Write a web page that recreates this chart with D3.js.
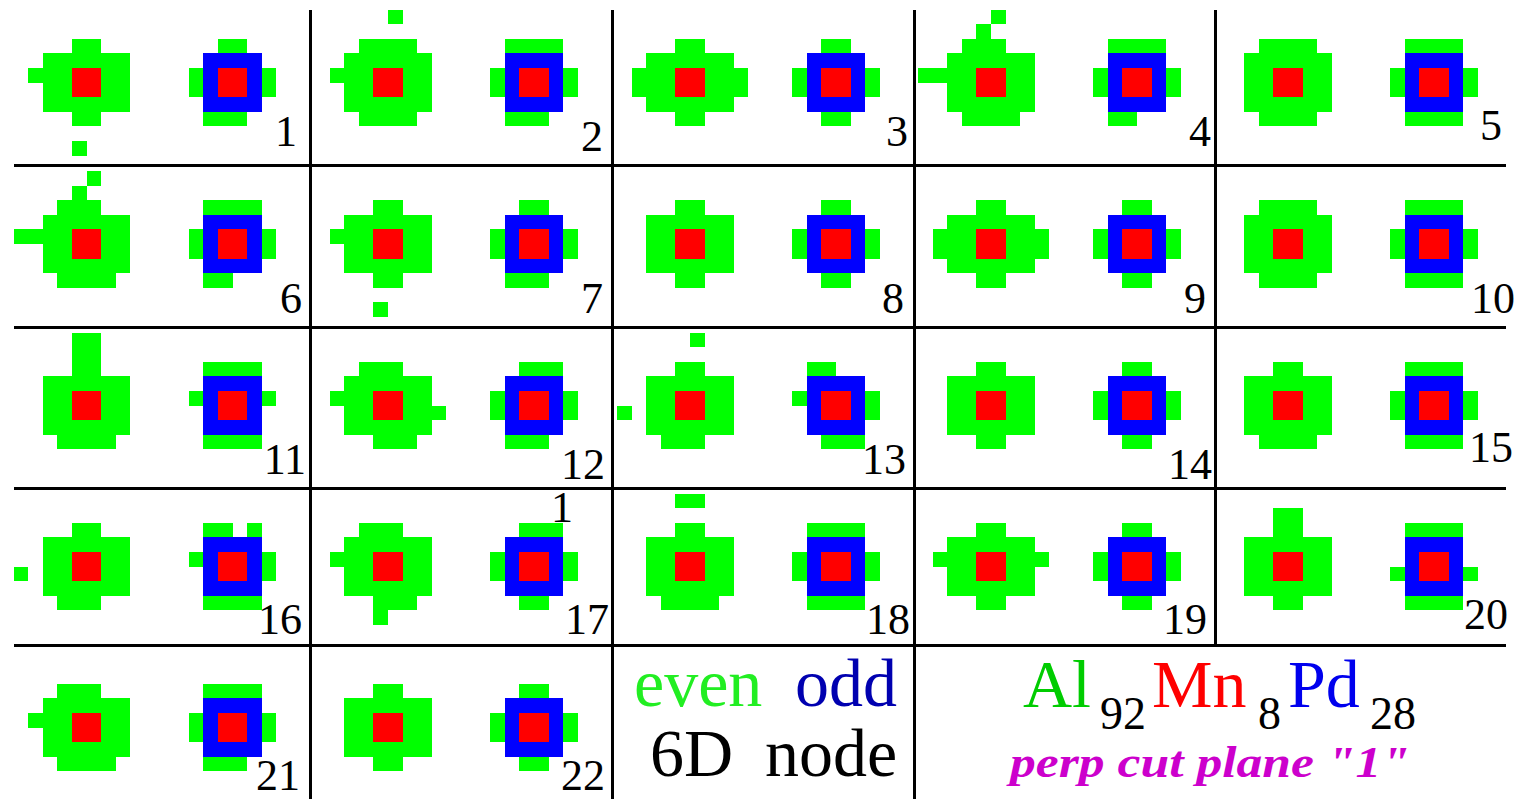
<!DOCTYPE html>
<html>
<head>
<meta charset="utf-8">
<script src="https://cdn.jsdelivr.net/npm/d3@7"></script>
<style>
body { margin: 0; background: #fff; }
svg { display: block; }
text { font-family: "Liberation Serif", "Times New Roman", serif; }
</style>
</head>
<body>
<svg id="plot" width="1520" height="799"></svg>
<script>
// panel numbers, read left-to-right, top-to-bottom
const PANEL_LABELS = ['1','2','3','4','5','6','7','8','9','10','11','12','13','14','15','16','17','18','19','20','21','22'];

// even nodes: rows j=-5..4, cols i=-5..3 (red block sits on i=-1,0 / j=-1,0)
const E_A = [".........",".........","....gg...","..gggggg.",".gggrrgg.","..ggrrgg.","..gggggg.","....gg...",".........","....g...."];
const E_B = [".....g...",".........","...gggg..","..gggggg.",".gggrrgg.","..ggrrgg.","..gggggg.","...gggg..",".........","........."];
const E_C = [".........",".........","....gg...","..gggggg.",".gggrrggg",".gggrrggg","..gggggg.","....gg...",".........","........."];
const E_D = [".....g...","....g....","...ggg...","..gggggg.","ggggrrgg.","..ggrrgg.","..gggggg.","...gggg..",".........","........."];
const E_E = [".........",".........","...gggg..","..gggggg.","..ggrrgg.","..ggrrgg.","..gggggg.","...gggg..",".........","........."];
const E_F = [".........",".........","....gg...","..gggggg.","..ggrrgg.","..ggrrgg.","..gggggg.","....gg...",".........","........."];
const E_11 = ["....gg...","....gg...","....gg...","..gggggg.","..ggrrgg.","..ggrrgg.","..gggggg.","...gggg..",".........","........."];
const E_12 = [".........",".........","...ggg...","..gggggg.",".gggrrgg.","..ggrrggg","..gggggg.","....ggg..",".........","........."];
const E_13 = [".....g...",".........","....gg...","..gggggg.","..ggrrgg.","g.ggrrgg.","..gggggg.","...ggg...",".........","........."];
const E_15 = [".........",".........","....gg...","..gggggg.","..ggrrgg.","..ggrrgg.","..gggggg.","...gggg..",".........","........."];
const E_16 = [".........",".........","....gg...","..gggggg.","..ggrrgg.","g.ggrrgg.","..gggggg.","...ggg...",".........","........."];
const E_17 = [".........",".........","...ggg...","..gggggg.",".gggrrgg.","..ggrrgg.","..gggggg.","....ggg..","....g....","........."];
const E_18 = ["....gg...",".........","....gg...","..gggggg.","..ggrrgg.","..ggrrgg.","..gggggg.","...gggg..",".........","........."];
const E_19 = [".........",".........","....gg...","..gggggg.",".gggrrggg","..ggrrgg.","..gggggg.","....gg...",".........","........."];
const E_20 = [".........","....gg...","....gg...","..gggggg.","..ggrrgg.","..ggrrgg.","..gggggg.","....gg...",".........","........."];
const E_21 = [".........",".........","...ggg...","..gggggg.",".gggrrgg.","..ggrrgg.","..gggggg.","...gggg..",".........","........."];
const EVEN_CELLS = [E_A, E_B, E_C, E_D, E_E, E_D, E_A, E_F, E_C, E_E,
                    E_11, E_12, E_13, E_F, E_15, E_16, E_17, E_18, E_19, E_20,
                    E_21, E_F];

// odd nodes: rows j=-3..2, cols i=-3..2
const O_A = ["..gg..",".bbbb.","gbrrbg","gbrrbg",".bbbb.",".ggg.."];
const O_B = [".gggg.",".bbbb.","gbrrbg","gbrrbg",".bbbb.",".ggg.."];
const O_C = ["..gg..",".bbbb.","gbrrbg","gbrrbg",".bbbb.","..gg.."];
const O_D = [".gggg.",".bbbb.","gbrrbg","gbrrbg",".bbbb.",".gg..."];
const O_E = [".gggg.",".bbbb.","gbrrbg","gbrrbg",".bbbb.",".gggg."];
const O_11 = [".gggg.",".bbbb.","gbrrbg",".brrb.",".bbbb.",".gggg."];
const O_12 = ["..ggg.",".bbbb.","gbrrbg","gbrrbg",".bbbb.",".ggg.."];
const O_13 = [".gg...",".bbbb.","gbrrbg",".brrbg",".bbbb.","..ggg."];
const O_16 = [".gg.g.",".bbbb.","gbrrbg",".brrbg",".bbbb.",".gggg."];
const O_17 = ["..ggg.",".bbbb.","gbrrbg","gbrrbg",".bbbb.","..gg.."];
const O_20 = [".gggg.",".bbbb.",".brrb.","gbrrbg",".bbbb.",".gggg."];
const ODD_CELLS = [O_A, O_B, O_C, O_D, O_E, O_D, O_A, O_C, O_C, O_E,
                   O_11, O_12, O_13, O_C, O_E, O_16, O_17, O_E, O_C, O_20,
                   O_B, O_C];

const LEGEND_LEFT = [["even", "#22ee22"], ["odd", "#0000b0"], ["6D", "#000"], ["node", "#000"]];
const FORMULA = [["Al", "#00cc00"], ["92", "#000"], ["Mn", "#ff0000"], ["8", "#000"], ["Pd", "#0000ee"], ["28", "#000"]];
const SUBTITLE = 'perp cut plane "1"';
const STRAY_LABEL = "1";

// ---- layout ----
const CELL = 14.6;
const COL_CX = [86.5, 388, 690, 991, 1288];
const ROW_CY = [82.5, 244, 405.5, 566.5, 727.5];
const ODD_SHIFT = 10; // odd node sits 10 cells right of even node
const COLORS = { g: "#00ff00", r: "#ff0000", b: "#0000ff" };
const LABEL_POS = [[297,146],[603,151],[908,146],[1211,146],[1502,140],
                   [302,313],[603,313],[904,313],[1206,313],[1515,313],
                   [306,474],[605,479],[906,474],[1212,479],[1513,462],
                   [302,634],[609,634],[910,634],[1207,634],[1508,629],
                   [300,790],[605,790]];

const svg = d3.select('#plot');

const colX = d3.scaleOrdinal().domain(d3.range(5)).range(COL_CX);
const rowY = d3.scaleOrdinal().domain(d3.range(5)).range(ROW_CY);

function drawBlob(g, grid, cx, cy, i0, j0) {
	const x = d3.scaleLinear().domain([0, 1]).range([cx, cx + CELL]);
	const y = d3.scaleLinear().domain([0, 1]).range([cy, cy + CELL]);
	let cells = [];
	grid.forEach((row, a) => {
		row.split('').forEach((ch, b) => {
			if (ch !== '.') cells.push({ i: b + i0, j: a + j0, c: ch });
		});
	});
	g.selectAll(null)
		.data(cells)
		.enter()
		.append('rect')
		.attr('x', d => Math.round(x(d.i)))
		.attr('y', d => Math.round(y(d.j)))
		.attr('width', d => Math.round(x(d.i + 1)) - Math.round(x(d.i)))
		.attr('height', d => Math.round(y(d.j + 1)) - Math.round(y(d.j)))
		.attr('fill', d => COLORS[d.c]);
}

const blobs = svg.append('g').attr('shape-rendering', 'crispEdges');

PANEL_LABELS.forEach((lab, k) => {
	const r = Math.floor(k / 5), c = k % 5;
	const cx = colX(c), cy = rowY(r);
	drawBlob(blobs, EVEN_CELLS[k], cx, cy, -5, -5);
	drawBlob(blobs, ODD_CELLS[k], cx + ODD_SHIFT * CELL, cy, -3, -3);
});

// grid lines
const lines = svg.append('g').attr('stroke', '#000').attr('stroke-width', 3).attr('shape-rendering', 'crispEdges');
[165.5, 327.5, 488.5, 645.5].forEach(yy => {
	lines.append('line').attr('x1', 14).attr('x2', 1506).attr('y1', yy).attr('y2', yy);
});
[[310.5, 799], [612.5, 799], [914.5, 799], [1215.5, 645]].forEach(([xx, y2]) => {
	lines.append('line').attr('x1', xx).attr('x2', xx).attr('y1', 10).attr('y2', y2);
});

// panel numbers
svg.append('g')
	.selectAll('text')
	.data(PANEL_LABELS)
	.enter()
	.append('text')
	.attr('x', (d, k) => LABEL_POS[k][0])
	.attr('y', (d, k) => LABEL_POS[k][1])
	.attr('text-anchor', 'end')
	.attr('font-size', 44)
	.text(d => d);

svg.append('text').attr('x', 551).attr('y', 522).attr('font-size', 44).text(STRAY_LABEL);

// legend
const legPos = [[634, 706], [795, 706], [650, 776], [765, 776]];
LEGEND_LEFT.forEach(([t, col], k) => {
	svg.append('text')
		.attr('x', legPos[k][0]).attr('y', legPos[k][1])
		.attr('font-size', 68)
		.attr('fill', col)
		.text(t);
});

const formPos = [[1023, 707, 68], [1100, 729, 46], [1152, 707, 68], [1258, 729, 46], [1288, 707, 68], [1370, 729, 46]];
FORMULA.forEach(([t, col], k) => {
	svg.append('text')
		.attr('x', formPos[k][0]).attr('y', formPos[k][1])
		.attr('font-size', formPos[k][2])
		.attr('fill', col)
		.text(t);
});

svg.append('text')
	.attr('x', 1010).attr('y', 777)
	.attr('font-size', 44)
	.attr('font-weight', 'bold')
	.attr('font-style', 'italic')
	.attr('fill', '#cc00cc')
	.attr('textLength', 400)
	.attr('lengthAdjust', 'spacingAndGlyphs')
	.text(SUBTITLE);
</script>
</body>
</html>
